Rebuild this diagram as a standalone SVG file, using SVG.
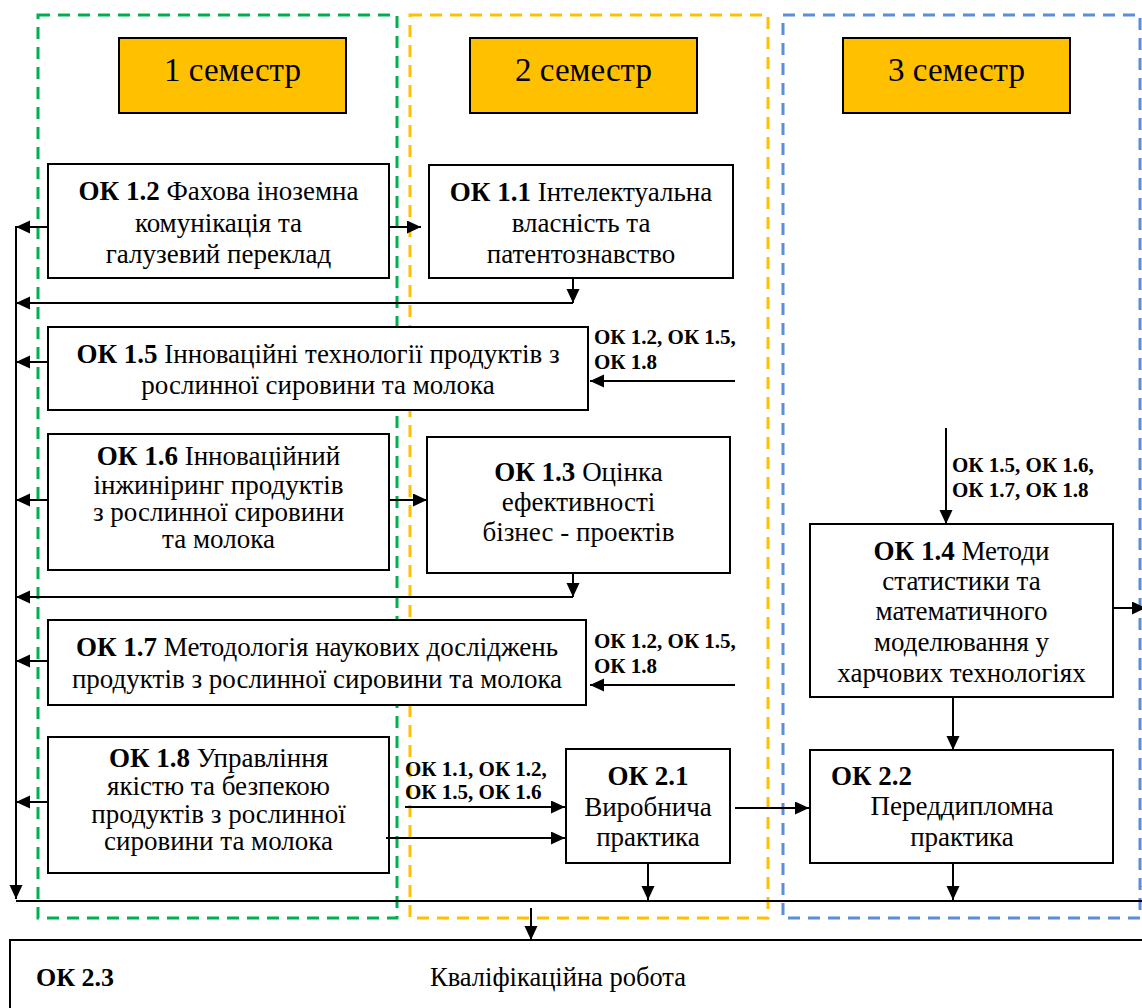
<svg xmlns="http://www.w3.org/2000/svg" width="1142" height="1008" viewBox="0 0 1142 1008">
<style>
.frame{fill:none;stroke-width:3}
.g{stroke:#00B050;stroke-dasharray:12 8}
.y{stroke:#FFC000;stroke-dasharray:12 8}
.b{stroke:#5B8ED6;stroke-dasharray:12 8}
.sem{fill:#FFC000;stroke:#000;stroke-width:2}
.box{fill:#fff;stroke:#000;stroke-width:2}
text{font-family:'Liberation Serif','Times New Roman',serif;fill:#000}
.t{font-size:27px;text-anchor:middle}
.st{font-size:33px;text-anchor:middle}
.lb{font-size:21px;font-weight:bold}
.bd{font-weight:bold}
.c{fill:none;stroke:#000;stroke-width:2}
</style>
<defs>
<marker id="ah" markerUnits="userSpaceOnUse" markerWidth="16" markerHeight="16" refX="14" refY="6.5" orient="auto">
<path d="M0,0 L14,6.5 L0,13 z" fill="#000"/>
</marker>
</defs>
<rect width="1142" height="1008" fill="#fff"/>
<g id="frames">
<rect class="frame g" x="38" y="15" width="359" height="903"/>
<rect class="frame y" x="410" y="15" width="358" height="903"/>
<rect class="frame b" x="783" y="15" width="357" height="903"/>
</g>
<g id="sem1"><rect class="sem" x="119" y="38" width="227" height="75"/><text class="st" x="232.5" y="81">1 семестр</text></g>
<g id="sem2"><rect class="sem" x="470" y="38" width="227" height="75"/><text class="st" x="583.5" y="81">2 семестр</text></g>
<g id="sem3"><rect class="sem" x="843" y="38" width="227" height="75"/><text class="st" x="956.5" y="81">3 семестр</text></g>
<g id="ok12"><rect class="box" x="48" y="164" width="341" height="114"/>
<text class="t" x="218.5" y="200"><tspan class="bd">ОК 1.2</tspan> Фахова іноземна</text>
<text class="t" x="218.5" y="232">комунікація та</text>
<text class="t" x="218.5" y="263">галузевий переклад</text></g>
<g id="ok11"><rect class="box" x="429" y="165" width="304" height="113"/>
<text class="t" x="581" y="201"><tspan class="bd">ОК 1.1</tspan> Інтелектуальна</text>
<text class="t" x="581" y="232">власність та</text>
<text class="t" x="581" y="263">патентознавство</text></g>
<g id="ok15"><rect class="box" x="48" y="327" width="540" height="83"/>
<text class="t" x="318" y="363"><tspan class="bd">ОК 1.5</tspan> Інноваційні технології продуктів з</text>
<text class="t" x="318" y="394">рослинної сировини та молока</text></g>
<g id="ok16"><rect class="box" x="48" y="434" width="341" height="136"/>
<text class="t" x="218.5" y="465"><tspan class="bd">ОК 1.6</tspan> Інноваційний</text>
<text class="t" x="218.5" y="494">інжиніринг продуктів</text>
<text class="t" x="218.5" y="521">з рослинної сировини</text>
<text class="t" x="218.5" y="548">та молока</text></g>
<g id="ok13"><rect class="box" x="427" y="437" width="303" height="136"/>
<text class="t" x="578.5" y="481"><tspan class="bd">ОК 1.3</tspan> Оцінка</text>
<text class="t" x="578.5" y="511">ефективності</text>
<text class="t" x="578.5" y="541">бізнес - проектів</text></g>
<g id="ok17"><rect class="box" x="48" y="620" width="538" height="85"/>
<text class="t" x="317" y="656"><tspan class="bd">ОК 1.7</tspan> Методологія наукових досліджень</text>
<text class="t" x="317" y="688">продуктів з рослинної сировини та молока</text></g>
<g id="ok18"><rect class="box" x="48" y="737" width="341" height="136"/>
<text class="t" x="218.5" y="767"><tspan class="bd">ОК 1.8</tspan> Управління</text>
<text class="t" x="218.5" y="795">якістю та безпекою</text>
<text class="t" x="218.5" y="823">продуктів з рослинної</text>
<text class="t" x="218.5" y="850">сировини та молока</text></g>
<g id="ok14"><rect class="box" x="810" y="524" width="303" height="173"/>
<text class="t" x="961.5" y="560"><tspan class="bd">ОК 1.4</tspan> Методи</text>
<text class="t" x="961.5" y="590">статистики та</text>
<text class="t" x="961.5" y="620">математичного</text>
<text class="t" x="961.5" y="651">моделювання у</text>
<text class="t" x="961.5" y="682">харчових технологіях</text></g>
<g id="ok21"><rect class="box" x="566" y="749" width="164" height="114"/>
<text class="t bd" x="648" y="785">ОК 2.1</text>
<text class="t" x="648" y="816">Виробнича</text>
<text class="t" x="648" y="846">практика</text></g>
<g id="ok22"><rect class="box" x="810" y="750" width="303" height="113"/>
<text class="t bd" x="831" y="785" style="text-anchor:start">ОК 2.2</text>
<text class="t" x="962" y="815">Переддипломна</text>
<text class="t" x="962" y="846">практика</text></g>
<g id="ok23"><rect class="box" x="10" y="940" width="1140" height="80"/>
<text class="lb" x="36" y="986" style="font-size:26px">ОК 2.3</text>
<text class="t" x="558" y="986" style="font-size:26.5px">Кваліфікаційна робота</text></g>
<g id="labels">
<text class="lb" x="594" y="344">ОК 1.2, ОК 1.5,</text>
<text class="lb" x="594" y="369">ОК 1.8</text>
<text class="lb" x="594" y="648">ОК 1.2, ОК 1.5,</text>
<text class="lb" x="594" y="673">ОК 1.8</text>
<text class="lb" x="952" y="472">ОК 1.5, ОК 1.6,</text>
<text class="lb" x="952" y="497">ОК 1.7, ОК 1.8</text>
<text class="lb" x="405" y="776">ОК 1.1, ОК 1.2,</text>
<text class="lb" x="405" y="799">ОК 1.5, ОК 1.6</text>
</g>
<g id="connectors">
<path class="c" d="M16,226 V899" marker-end="url(#ah)"/>
<path class="c" d="M48,227 H16" marker-end="url(#ah)"/>
<path class="c" d="M389,227 H421" marker-end="url(#ah)"/>
<path class="c" d="M573,303 H16" marker-end="url(#ah)"/>
<path class="c" d="M573,278 V303" marker-end="url(#ah)"/>
<path class="c" d="M48,362 H16" marker-end="url(#ah)"/>
<path class="c" d="M735,381 H590" marker-end="url(#ah)"/>
<path class="c" d="M48,500 H16" marker-end="url(#ah)"/>
<path class="c" d="M389,500 H427" marker-end="url(#ah)"/>
<path class="c" d="M573,597 H16" marker-end="url(#ah)"/>
<path class="c" d="M573,573 V597" marker-end="url(#ah)"/>
<path class="c" d="M48,661 H16" marker-end="url(#ah)"/>
<path class="c" d="M735,685 H590" marker-end="url(#ah)"/>
<path class="c" d="M48,802 H16" marker-end="url(#ah)"/>
<path class="c" d="M405,807 H565" marker-end="url(#ah)"/>
<path class="c" d="M386,838 H565" marker-end="url(#ah)"/>
<path class="c" d="M735,808 H809" marker-end="url(#ah)"/>
<path class="c" d="M648,863 V900" marker-end="url(#ah)"/>
<path class="c" d="M946,428 V524" marker-end="url(#ah)"/>
<path class="c" d="M1113,608 H1146" marker-end="url(#ah)"/>
<path class="c" d="M953,697 V750" marker-end="url(#ah)"/>
<path class="c" d="M953,863 V900" marker-end="url(#ah)"/>
<path class="c" d="M16,901 H1142"/>
<path class="c" d="M1148,860 V900" marker-end="url(#ah)"/>
<path class="c" d="M531,908 V940" marker-end="url(#ah)"/>
</g>
</svg>
